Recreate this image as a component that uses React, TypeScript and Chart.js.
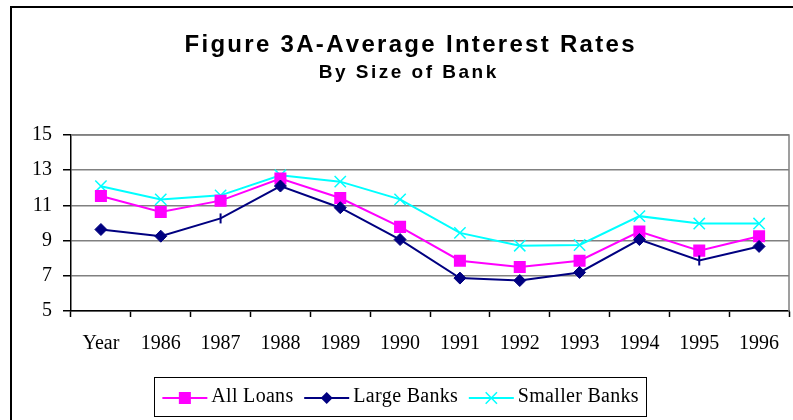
import React, { useEffect, useRef } from "react";
import { Chart, registerables } from "chart.js";

Chart.register(...registerables);

const categories = ["Year", "1986", "1987", "1988", "1989", "1990", "1991", "1992", "1993", "1994", "1995", "1996"];
const allLoans = [11.53, 10.62, 11.27, 12.53, 11.42, 9.78, 7.86, 7.5, 7.86, 9.51, 8.43, 9.25];
const largeBanks = [9.63, 9.25, 10.26, 12.1, 10.87, 9.06, 6.87, 6.73, 7.19, 9.06, 7.87, 8.67];
const smallerBanks = [12.09, 11.34, 11.57, 12.71, 12.35, 11.34, 9.44, 8.71, 8.75, 10.39, 9.97, 9.97];
// points of "Large Banks" shown as a plain vertical tick instead of a diamond
const largeTickOnly = [false, false, true, false, false, false, false, false, false, false, true, false];
const yTicks = [5, 7, 9, 11, 13, 15];
const titleText = "Figure 3A-Average Interest Rates";
const subtitleText = "By Size of Bank";

const SERIF = '"Liberation Serif", "Times New Roman", serif';
const SANS = '"Liberation Sans", Arial, sans-serif';

const MAGENTA = "#FF00FF";
const NAVY = "#000080";
const CYAN = "#00FFFF";

const legendItems = [
  { label: "All Loans", color: MAGENTA, style: "rect", radius: 8.5 },
  { label: "Large Banks", color: NAVY, style: "rectRot", radius: 6 },
  { label: "Smaller Banks", color: CYAN, style: "crossRot", radius: 8 },
];

function spacedWidth(ctx: CanvasRenderingContext2D, text: string, sp: number) {
  let w = 0;
  for (const ch of text) w += ctx.measureText(ch).width + sp;
  return w - sp;
}

function drawSpaced(ctx: CanvasRenderingContext2D, text: string, x: number, y: number, sp: number) {
  let cx = x;
  for (const ch of text) {
    ctx.fillText(ch, cx, y);
    cx += ctx.measureText(ch).width + sp;
  }
}

function drawMarker(ctx: CanvasRenderingContext2D, style: string, r: number, x: number, y: number) {
  ctx.beginPath();
  if (style === "rect") {
    const s = Math.SQRT1_2 * r;
    ctx.rect(x - s, y - s, 2 * s, 2 * s);
    ctx.fill();
  } else if (style === "rectRot") {
    ctx.moveTo(x, y - r);
    ctx.lineTo(x + r, y);
    ctx.lineTo(x, y + r);
    ctx.lineTo(x - r, y);
    ctx.closePath();
    ctx.fill();
  } else {
    const o = Math.SQRT1_2 * r;
    ctx.moveTo(x - o, y - o);
    ctx.lineTo(x + o, y + o);
    ctx.moveTo(x - o, y + o);
    ctx.lineTo(x + o, y - o);
    ctx.stroke();
  }
}

const frameTitleLegend = {
  id: "frameTitleLegend",
  afterDraw(chart: any) {
    const { ctx, chartArea } = chart;
    ctx.save();
    // plot-area frame (top and right)
    ctx.strokeStyle = "#808080";
    ctx.lineWidth = 1.5;
    ctx.beginPath();
    ctx.moveTo(chartArea.left, chartArea.top);
    ctx.lineTo(chartArea.right, chartArea.top);
    ctx.lineTo(chartArea.right, chartArea.bottom);
    ctx.stroke();

    // title + subtitle (letter-spaced, bold sans)
    ctx.fillStyle = "#000";
    ctx.textAlign = "left";
    ctx.textBaseline = "alphabetic";
    ctx.font = "bold 24px " + SANS;
    let w = spacedWidth(ctx, titleText, 2.3);
    drawSpaced(ctx, titleText, 397.5 - w / 2, 43.7, 2.3);
    ctx.font = "bold 19px " + SANS;
    w = spacedWidth(ctx, subtitleText, 2.5);
    drawSpaced(ctx, subtitleText, 395.5 - w / 2, 69.5, 2.5);

    // legend
    ctx.font = "20px " + SERIF;
    const sp = 0.3;
    const lineLen = 45;
    const gapText = 4;
    const gapItem = 11;
    const padX = 8;
    let contentW = 0;
    legendItems.forEach((it, i) => {
      contentW += lineLen + gapText + spacedWidth(ctx, it.label, sp);
      if (i < legendItems.length - 1) contentW += gapItem;
    });
    const cx = 388.5;
    const boxW = contentW + padX * 2;
    const boxX = cx - boxW / 2;
    const boxY = 369;
    const boxH = 39;
    ctx.strokeStyle = "#000";
    ctx.lineWidth = 1;
    ctx.strokeRect(Math.round(boxX) + 0.5, boxY + 0.5, Math.round(boxW), boxH);
    let x = boxX + padX;
    const ly = 390;
    const ty = 388.5;
    legendItems.forEach((it) => {
      ctx.strokeStyle = it.color;
      ctx.lineWidth = 2;
      ctx.beginPath();
      ctx.moveTo(x, ly);
      ctx.lineTo(x + lineLen, ly);
      ctx.stroke();
      ctx.fillStyle = it.color;
      ctx.strokeStyle = it.color;
      ctx.lineWidth = it.style === "crossRot" ? 1.5 : 1;
      drawMarker(ctx, it.style, it.radius, x + lineLen / 2, ly);
      x += lineLen + gapText;
      ctx.fillStyle = "#000";
      ctx.textAlign = "left";
      ctx.textBaseline = "middle";
      drawSpaced(ctx, it.label, x, ty, sp);
      x += spacedWidth(ctx, it.label, sp) + gapItem;
    });
    ctx.restore();
  },
};

export default function App() {
  const ref = useRef<HTMLCanvasElement | null>(null);

  useEffect(() => {
    if (!ref.current) return;
    const chart = new Chart(ref.current, {
      type: "line",
      data: {
        labels: categories,
        datasets: [
          {
            label: "Smaller Banks",
            data: smallerBanks,
            borderColor: CYAN,
            backgroundColor: CYAN,
            borderWidth: 2,
            pointStyle: "crossRot",
            pointRadius: 8,
            pointBorderWidth: 1.5,
            pointBorderColor: CYAN,
            tension: 0,
            order: 3,
          },
          {
            label: "All Loans",
            data: allLoans,
            borderColor: MAGENTA,
            backgroundColor: MAGENTA,
            borderWidth: 2,
            pointStyle: "rect",
            pointRadius: 8.5,
            pointBorderWidth: 0,
            pointBackgroundColor: MAGENTA,
            tension: 0,
            order: 2,
          },
          {
            label: "Large Banks",
            data: largeBanks,
            borderColor: NAVY,
            backgroundColor: NAVY,
            borderWidth: 2,
            pointStyle: largeTickOnly.map((t) => (t ? "line" : "rectRot")) as any,
            pointRotation: largeTickOnly.map((t) => (t ? 90 : 0)),
            pointRadius: largeTickOnly.map((t) => (t ? 5 : 6)),
            pointBorderWidth: largeTickOnly.map((t) => (t ? 2 : 1)),
            pointBackgroundColor: NAVY,
            pointBorderColor: NAVY,
            tension: 0,
            order: 1,
          },
        ],
      },
      options: {
        responsive: false,
        animation: false,
        events: [],
        layout: { padding: { top: 127, left: 0, right: 19, bottom: 59 } },
        plugins: {
          legend: { display: false },
          tooltip: { enabled: false },
          title: { display: false },
        },
        scales: {
          x: {
            type: "category",
            offset: true,
            grid: {
              offset: true,
              drawOnChartArea: false,
              drawTicks: true,
              tickLength: 6,
              tickColor: "#000",
              tickWidth: 1.5,
            },
            border: { color: "#000", width: 1.5 },
            ticks: {
              color: "#000",
              font: { family: SERIF, size: 20 },
              padding: 15,
              maxRotation: 0,
              autoSkip: false,
            },
            afterFit: (s: any) => {
              s.height = 50;
            },
          },
          y: {
            min: yTicks[0],
            max: yTicks[yTicks.length - 1],
            afterBuildTicks: (s: any) => {
              s.ticks = yTicks.map((v) => ({ value: v }));
            },
            grid: {
              color: "#808080",
              lineWidth: 1.5,
              drawTicks: true,
              tickLength: 8,
              tickColor: "#000",
              tickWidth: 1.5,
            },
            border: { color: "#000", width: 1.5 },
            ticks: {
              color: "#000",
              font: { family: SERIF, size: 20 },
              padding: 11,
            },
            afterFit: (s: any) => {
              s.width = 59;
            },
          },
        },
      },
      plugins: [frameTitleLegend],
    });
    return () => chart.destroy();
  }, []);

  return (
    <div style={{ position: "fixed", left: 0, top: 0, width: 793, height: 420, overflow: "hidden", background: "#fff" }}>
      <div
        style={{
          position: "absolute",
          left: 10,
          top: 6,
          width: 798,
          height: 430,
          border: "2px solid #000",
        }}
      >
        <canvas ref={ref} width={796} height={412} style={{ display: "block" }} />
      </div>
    </div>
  );
}
